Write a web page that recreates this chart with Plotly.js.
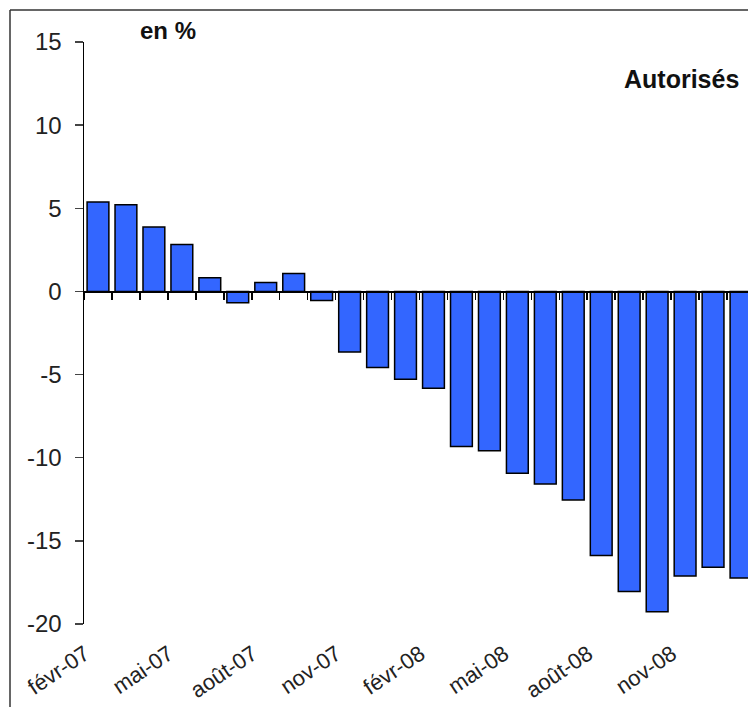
<!DOCTYPE html>
<html>
<head>
<meta charset="utf-8">
<script src="https://cdn.plot.ly/plotly-3.0.1.min.js"></script>
<style>html,body{margin:0;padding:0;background:#fff;}#chart{width:748px;height:707px;}</style>
</head>
<body>
<div id="chart"></div>
<script>
const months = ["févr-07","mars-07","avr-07","mai-07","juin-07","juil-07","août-07","sept-07","oct-07","nov-07","déc-07","janv-08",
  "févr-08","mars-08","avr-08","mai-08","juin-08","juil-08","août-08","sept-08","oct-08","nov-08","déc-08","janv-09"];
const autorises = [5.38,5.22,3.88,2.82,0.82,-0.68,0.54,1.08,-0.54,-3.64,-4.58,-5.28,
  -5.82,-9.32,-9.58,-10.94,-11.58,-12.54,-15.88,-18.04,-19.26,-17.12,-16.58,-17.24];
const tickLabels = ["févr-07","mai-07","août-07","nov-07","févr-08","mai-08","août-08","nov-08"];
const yTicks = [15,10,5,0,-5,-10,-15,-20];

const FONT = "Liberation Sans, Arial, sans-serif";
const traces = [
  {type:"bar", x:months, y:autorises, marker:{color:"#3366ff", line:{color:"#000", width:1.5}},
   hoverinfo:"x+y", showlegend:false},
  {type:"scatter", mode:"markers", x:months, y:months.map(()=>null), xaxis:"x2", yaxis:"y",
   showlegend:false, hoverinfo:"skip"}
];
const layout = {
  width:748, height:707,
  margin:{l:84, r:0, t:42, b:83},
  paper_bgcolor:"#fff", plot_bgcolor:"rgba(0,0,0,0)",
  bargap:0.22,
  font:{family:FONT, color:"#000"},
  xaxis:{type:"category", range:[-0.5,23.25], showline:false, showgrid:false, zeroline:false,
    tickmode:"array", tickvals:tickLabels, ticktext:tickLabels, ticks:"",
    tickangle:-34, tickfont:{size:22, family:FONT, color:"#222"}, ticklabelshift:-13, ticklabelstandoff:12},
  xaxis2:{type:"category", overlaying:"x", matches:"x", anchor:"free", position:20/35,
    showline:true, linecolor:"#000", linewidth:1.5, ticks:"outside", ticklen:7, tickwidth:1.5, tickcolor:"#000",
    tickson:"boundaries", showticklabels:false, showgrid:false, zeroline:false},
  yaxis:{range:[-20,15], tickmode:"array", tickvals:yTicks, ticktext:yTicks.map(String),
    showline:true, linecolor:"#000", linewidth:1.5, ticks:"outside", ticklen:8, tickwidth:1.5,
    showgrid:false, zeroline:false, tickfont:{size:24, family:FONT, color:"#222"}, ticklabelstandoff:8},
  shapes:[
    {type:"line", xref:"paper", yref:"paper", x0:(10-84)/664, x1:(10-84)/664, y0:1+(42-10)/582, y1:-0.3,
     line:{color:"#333", width:1.5}},
    {type:"line", xref:"paper", yref:"paper", x0:(10-84)/664, x1:1.2, y0:1+(42-10)/582, y1:1+(42-10)/582,
     line:{color:"#333", width:1.5}}
  ],
  annotations:[
    {text:"<b>en %</b>", xref:"paper", yref:"paper", x:(168-84)/664, y:1+(42-30)/582, xanchor:"center", yanchor:"middle",
     showarrow:false, font:{size:24, family:FONT, color:"#111"}},
    {text:"<b>Autorisés</b>", xref:"paper", yref:"paper", x:(681-84)/664, y:1-(79-42)/582, xanchor:"center", yanchor:"middle",
     showarrow:false, font:{size:25, family:FONT, color:"#111"}}
  ]
};
Plotly.newPlot("chart", traces, layout, {displayModeBar:false, staticPlot:true});
</script>
</body>
</html>
